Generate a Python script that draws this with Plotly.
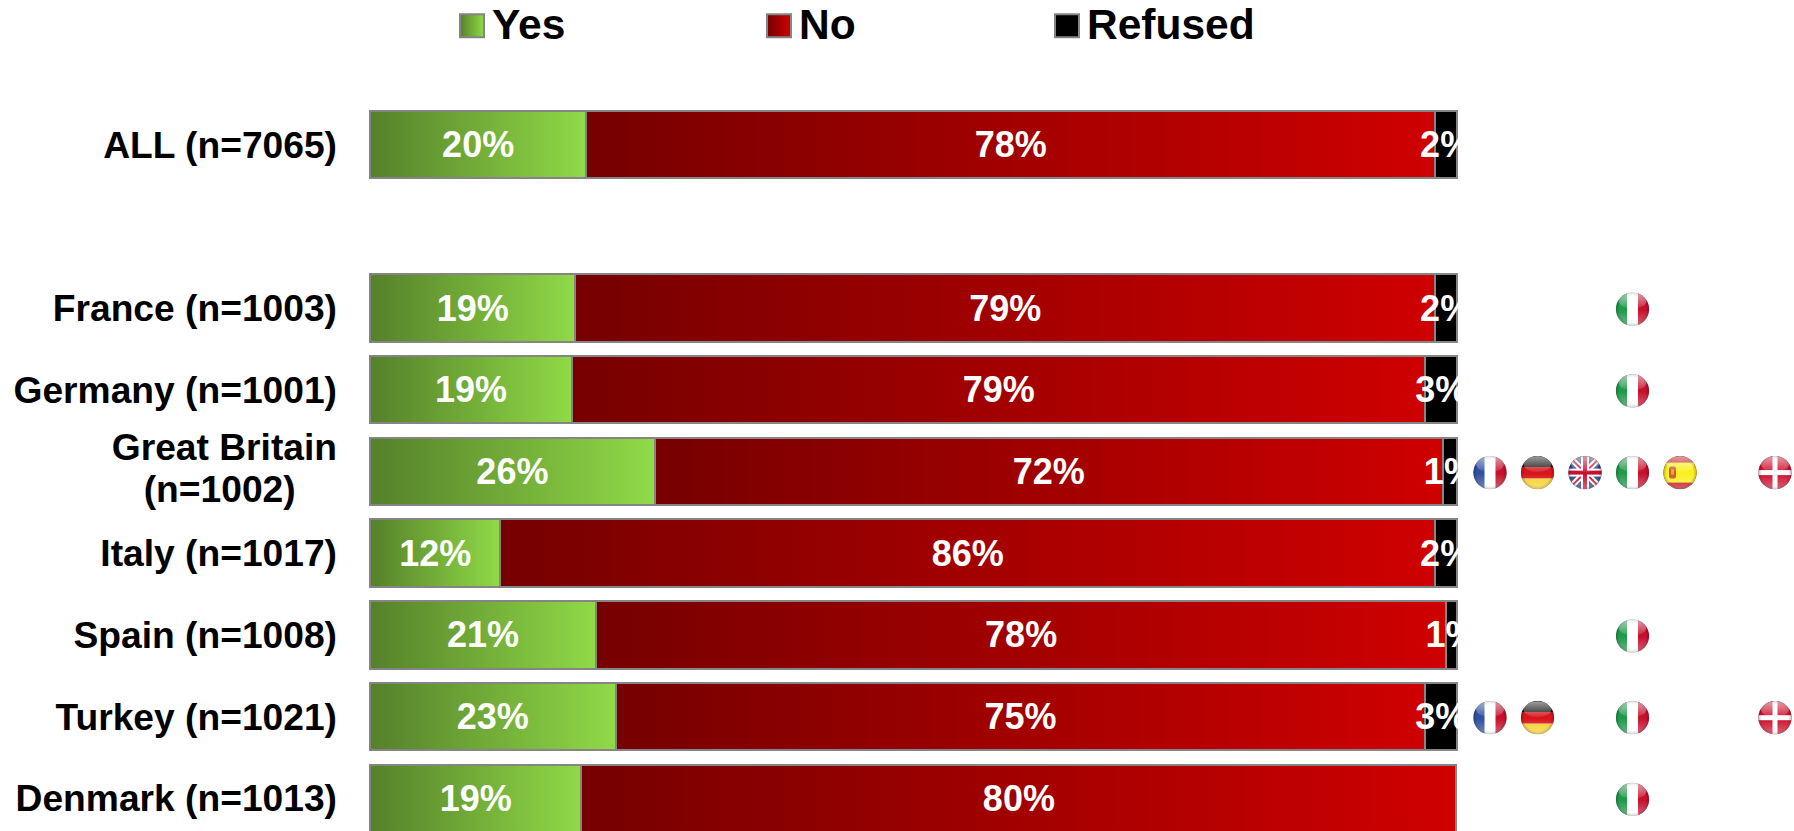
import base64
import plotly.graph_objects as go

# Survey rows, top to bottom; the blank row separates the total from the countries.
NBSP = "\u00a0"
categories = [
    "ALL (n=7065)",
    " ",
    "France (n=1003)",
    "Germany (n=1001)",
    "Great Britain<br>(n=1002)" + NBSP * 4,
    "Italy (n=1017)",
    "Spain (n=1008)",
    "Turkey (n=1021)",
    "Denmark (n=1013)",
]
yes_values = [19.9, None, 18.9, 18.6, 26.2, 12.0, 20.8, 22.6, 19.45]
no_values = [78.1, None, 79.1, 78.5, 72.49, 86.0, 78.2, 74.5, 80.49]
refused_values = [2.0, None, 2.0, 2.9, 1.31, 2.0, 1.0, 2.9, None]

# Significance flags shown beside each country row.
flag_columns = ["France", "Germany", "Great Britain", "Italy", "Spain", "Turkey", "Denmark"]
flag_rows = {
    "France (n=1003)": ["Italy"],
    "Germany (n=1001)": ["Italy"],
    categories[4]: ["France", "Germany", "Great Britain", "Italy", "Spain", "Denmark"],
    "Spain (n=1008)": ["Italy"],
    "Turkey (n=1021)": ["France", "Germany", "Italy", "Denmark"],
    "Denmark (n=1013)": ["Italy"],
}

W, H = 1794, 831
FONT = "Liberation Sans"
EDGE = "#858585"


def stripes(name):
    if name == "France":
        return ('<rect x="0" y="0" width="34" height="34" fill="#fff"/>'
                '<rect x="0" y="0" width="11.5" height="34" fill="#2f4f9f"/>'
                '<rect x="22.5" y="0" width="11.5" height="34" fill="#c8102e"/>')
    if name == "Italy":
        return ('<rect x="0" y="0" width="34" height="34" fill="#fff"/>'
                '<rect x="0" y="0" width="11.5" height="34" fill="#1f9a4a"/>'
                '<rect x="22.5" y="0" width="11.5" height="34" fill="#c8102e"/>')
    if name == "Germany":
        return ('<rect x="0" y="0" width="34" height="12" fill="#111"/>'
                '<rect x="0" y="11.5" width="34" height="11.5" fill="#d8141c"/>'
                '<rect x="0" y="23" width="34" height="11" fill="#f7cf2a"/>')
    if name == "Spain":
        return ('<rect x="0" y="0" width="34" height="34" fill="#c8141c"/>'
                '<rect x="0" y="7" width="34" height="20" fill="#fbf01e"/>'
                '<rect x="6" y="11" width="7" height="12" rx="2" fill="#c9582a"/>'
                '<rect x="8" y="14" width="3" height="5" fill="#e8b020"/>')
    if name == "Denmark":
        return ('<rect x="0" y="0" width="34" height="34" fill="#d0102e"/>'
                '<rect x="14.5" y="0" width="5" height="34" fill="#fff"/>'
                '<rect x="0" y="14.5" width="34" height="5" fill="#fff"/>')
    if name == "Great Britain":
        return ('<rect x="0" y="0" width="34" height="34" fill="#27408f"/>'
                '<path d="M0 0L34 34M34 0L0 34" stroke="#fff" stroke-width="6"/>'
                '<path d="M0 0L34 34M34 0L0 34" stroke="#c8102e" stroke-width="2"/>'
                '<rect x="13" y="0" width="8" height="34" fill="#fff"/>'
                '<rect x="0" y="13" width="34" height="8" fill="#fff"/>'
                '<rect x="15" y="0" width="4" height="34" fill="#c8102e"/>'
                '<rect x="0" y="15" width="34" height="4" fill="#c8102e"/>')
    return ""


def flag_uri(name):
    # A round, glossy button: flag artwork clipped to a disc with a highlight on top.
    svg = (
        '<svg xmlns="http://www.w3.org/2000/svg" width="136" height="136" viewBox="0 0 34 34">'
        '<defs><clipPath id="c"><circle cx="17" cy="17" r="16.6"/></clipPath>'
        '<linearGradient id="g" x1="0" y1="0" x2="0" y2="1">'
        '<stop offset="0" stop-color="#fff" stop-opacity="0.6"/>'
        '<stop offset="1" stop-color="#fff" stop-opacity="0.08"/></linearGradient>'
        '<linearGradient id="b" x1="0" y1="0" x2="0" y2="1">'
        '<stop offset="0" stop-color="#fff" stop-opacity="0"/>'
        '<stop offset="1" stop-color="#fff" stop-opacity="0.35"/></linearGradient>'
        '<radialGradient id="s" cx="0.5" cy="0.5" r="0.5">'
        '<stop offset="0.78" stop-color="#000" stop-opacity="0"/>'
        '<stop offset="1" stop-color="#000" stop-opacity="0.28"/></radialGradient></defs>'
        f'<g clip-path="url(#c)">{stripes(name)}'
        '<rect x="0" y="0" width="34" height="34" fill="url(#s)"/>'
        '<rect x="0" y="18" width="34" height="16" fill="url(#b)"/>'
        '<ellipse cx="17" cy="8.5" rx="14" ry="8" fill="url(#g)"/></g>'
        '<circle cx="17" cy="17" r="16.6" fill="none" stroke="#000" stroke-opacity="0.12" stroke-width="0.6"/>'
        '</svg>'
    )
    return "data:image/svg+xml;base64," + base64.b64encode(svg.encode()).decode()


def bar_trace(name, values, legend_id):
    return go.Bar(
        name=name,
        y=categories,
        x=values,
        orientation="h",
        legend=legend_id,
        marker=dict(color="#888888", line=dict(color=EDGE, width=2)),
        texttemplate="%{x:.0f}%",
        textposition="inside",
        textangle=0,
        insidetextanchor="middle",
        constraintext="none",
        cliponaxis=True,
        textfont=dict(family=FONT, size=36, color="white", weight=700),
        hovertemplate="%{y}: %{x:.0f}%<extra>" + name + "</extra>",
    )


fig = go.Figure()
fig.add_trace(bar_trace("Yes", yes_values, "legend"))
fig.add_trace(bar_trace("No", no_values, "legend2"))
fig.add_trace(bar_trace("Refused", refused_values, "legend3"))

# Flag anchor points live on a hidden column axis.
flag_x, flag_y = [], []
for row, cols in flag_rows.items():
    for col in cols:
        flag_x.append(flag_columns.index(col))
        flag_y.append(row)
fig.add_trace(go.Scatter(
    x=flag_x, y=flag_y, xaxis="x2", yaxis="y", mode="markers",
    marker=dict(size=34, color="rgba(0,0,0,0)"), showlegend=False, hoverinfo="skip",
))

COL_FIRST, COL_STEP = 1490.0, 47.5
ROW_FIRST, ROW_STEP = 144.6, 81.7
FLAG_DROP = 1.2 / ROW_STEP  # flags sit a touch below the bar centre line
images = [
    dict(source=flag_uri(flag_columns[x]), xref="x2", yref="y", x=x,
         y=categories.index(y) + FLAG_DROP,
         sizex=34 / COL_STEP, sizey=34 / ROW_STEP, xanchor="center", yanchor="middle",
         sizing="stretch", layer="above")
    for x, y in zip(flag_x, flag_y)
]

BAR_L, BAR_R = 370.0, 1457.0
PLOT_L, PLOT_R = 369.0, 1459.5
units = 100.0 / (BAR_R - BAR_L)


def legend_box(px):
    return dict(x=px / W, y=1, xanchor="left", yanchor="top",
                orientation="h", bgcolor="rgba(0,0,0,0)", borderwidth=0,
                itemwidth=30, itemclick=False, itemdoubleclick=False,
                font=dict(family=FONT, size=42.5, color="black", weight=700))


fig.update_layout(
    width=W,
    height=H,
    barmode="stack",
    bargap=0.175,
    margin=dict(l=0, r=0, t=0, b=0),
    paper_bgcolor="white",
    plot_bgcolor="rgba(0,0,0,0)",
    images=images,
    legend=legend_box(452),
    legend2=legend_box(759),
    legend3=legend_box(1047),
    xaxis=dict(
        domain=[PLOT_L / W, PLOT_R / W],
        range=[(PLOT_L - BAR_L) * units, (PLOT_R - BAR_L) * units],
        visible=False,
    ),
    xaxis2=dict(
        domain=[0, 1],
        range=[-COL_FIRST / COL_STEP, (W - COL_FIRST) / COL_STEP],
        anchor="y",
        visible=False,
    ),
    yaxis=dict(
        domain=[0, 1],
        type="category",
        categoryorder="array",
        categoryarray=categories,
        range=[(H - ROW_FIRST) / ROW_STEP, -ROW_FIRST / ROW_STEP],
        showgrid=False,
        zeroline=False,
        showline=False,
        ticks="",
        ticklabelstandoff=31,
        tickfont=dict(family=FONT, size=37.2, color="black", weight=700),
    ),
)

# Horizontal gradient fills for the bars and the legend swatches, which also grow to full size.
post_script = """
var gd = document.getElementById('{plot_id}');
var svg = gd.querySelector('.main-svg');
var NS = 'http://www.w3.org/2000/svg';
var defs = svg.querySelector('defs') || svg.insertBefore(document.createElementNS(NS, 'defs'), svg.firstChild);
function grad(id, a, b) {
  var g = document.createElementNS(NS, 'linearGradient');
  g.setAttribute('id', id);
  [[0, a], [1, b]].forEach(function (s) {
    var st = document.createElementNS(NS, 'stop');
    st.setAttribute('offset', s[0]);
    st.setAttribute('stop-color', s[1]);
    g.appendChild(st);
  });
  defs.appendChild(g);
}
grad('fillYes', '#55802a', '#90da47');
grad('fillNo', '#760000', '#cf0000');
var fills = ['url(#fillYes)', 'url(#fillNo)', '#000000'];
gd.querySelectorAll('.barlayer .trace.bars').forEach(function (t, i) {
  t.querySelectorAll('.point path').forEach(function (p) { p.style.fill = fills[i]; });
});
['.legend', '.legend2', '.legend3'].forEach(function (sel, i) {
  var box = gd.querySelector('.infolayer ' + sel);
  if (!box) return;
  // Legends sit closer to the top edge than the layout keeps them.
  var m = /translate\\(([-\\d.]+),\\s*([-\\d.]+)\\)/.exec(box.getAttribute('transform'));
  box.setAttribute('transform', 'translate(' + m[1] + ',' + (parseFloat(m[2]) - 12) + ')');
  box.querySelectorAll('.legendpoints path').forEach(function (p) {
    p.setAttribute('d', 'M12,15H-12V-8H12Z');
    p.style.fill = fills[i];
    p.style.stroke = '#858585';
    p.style.strokeWidth = '2px';
  });
});
// Tighter line spacing for the two-line country label.
gd.querySelectorAll('.ytick text tspan.line').forEach(function (t) {
  if (t.getAttribute('dy') && parseFloat(t.getAttribute('dy')) > 0) t.setAttribute('dy', '1.13em');
});
"""

fig.write_html("out.html", config={"displayModeBar": False}, post_script=post_script)
